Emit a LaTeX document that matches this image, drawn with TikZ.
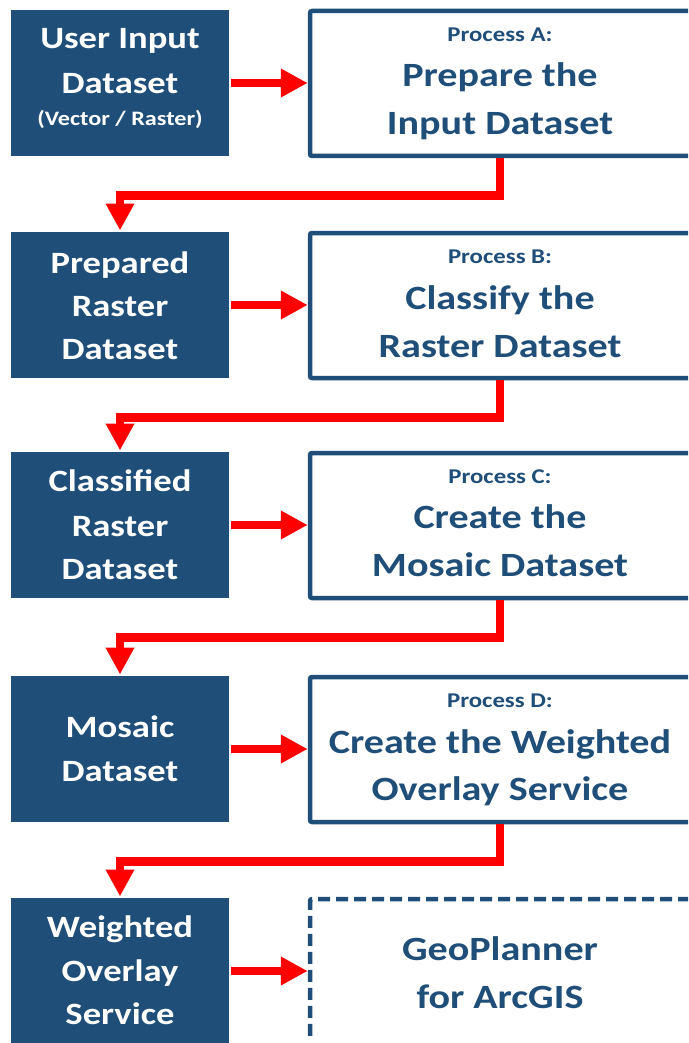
\documentclass[tikz,border=0pt]{standalone}
\usepackage{fontspec}
\setmainfont{Carlito}[FakeStretch=1.18]
\usetikzlibrary{arrows.meta}
\definecolor{navy}{HTML}{1F4E79}
\definecolor{flowred}{HTML}{FF0000}

\begin{document}
\begin{tikzpicture}[x=1pt,y=-1pt,
  databox/.style={fill=navy, minimum width=218pt, minimum height=146pt,
    inner sep=0pt, outer sep=0pt},
  procbox/.style={draw=navy, line width=4.5pt, rounded corners=2pt, fill=white,
    minimum width=400pt, minimum height=145pt, inner sep=0pt},
  toolbox/.style={procbox, dash pattern=on 12pt off 6pt},
  dtext/.style={text=white, font=\bfseries\fontsize{31}{31}\selectfont,
    anchor=base, inner sep=0pt},
  dnote/.style={dtext, font=\bfseries\fontsize{20.5}{20.5}\selectfont},
  ptag/.style={text=navy, font=\bfseries\fontsize{21}{21}\selectfont,
    anchor=base, inner sep=0pt},
  ptitle/.style={ptag, font=\bfseries\fontsize{34}{34}\selectfont},
  feed/.style={draw=flowred, line width=8.5pt,
    -{Triangle[width=27pt,length=27pt]}},
  handoff/.style={feed, shorten >=1.5pt},
]
\useasboundingbox (0,0) rectangle (688,1043);
\fill[white] (0,0) rectangle (688,1043);
\clip (0,0) rectangle (688,1043);

% ---- row 1
\begin{scope}[shift={(0,10)}]
  \node[databox] (d1) at (120,73) {};
  \node[procbox] (p1) at (510,73.5) {};
  \node[dtext] (d1a) at (120,38.5) {User Input};
  \node[dtext] (d1b) at (120,83.5) {Dataset};
  \node[dnote] (d1c) at (120,115.5) {(Vector / Raster)};
  \node[ptag]   (p1a) at (500,31.7) {Process A:};
  \node[ptitle] (p1b) at (500,76.5) {Prepare the};
  \node[ptitle] (p1c) at (500,125) {Input Dataset};
\end{scope}

% ---- row 2
\begin{scope}[shift={(0,232)}]
  \node[databox] (d2) at (120,73) {};
  \node[procbox] (p2) at (510,73.5) {};
  \node[dtext] (d2a) at (120,41) {Prepared};
  \node[dtext] (d2b) at (120,84.5) {Raster};
  \node[dtext] (d2c) at (120,127.7) {Dataset};
  \node[ptag]   (p2a) at (500,31.5) {Process B:};
  \node[ptitle] (p2b) at (500,77) {Classify the};
  \node[ptitle] (p2c) at (500,125) {Raster Dataset};
\end{scope}

% ---- row 3
\begin{scope}[shift={(0,452)}]
  \node[databox] (d3) at (120,73) {};
  \node[procbox] (p3) at (510,73.5) {};
  \node[dtext] (d3a) at (120,39.5) {Classified};
  \node[dtext] (d3b) at (120,84.5) {Raster};
  \node[dtext] (d3c) at (120,127.5) {Dataset};
  \node[ptag]   (p3a) at (500,31) {Process C:};
  \node[ptitle] (p3b) at (500,76.5) {Create the};
  \node[ptitle] (p3c) at (500,124.5) {Mosaic Dataset};
\end{scope}

% ---- row 4
\begin{scope}[shift={(0,676)}]
  \node[databox] (d4) at (120,73) {};
  \node[procbox] (p4) at (510,73.5) {};
  \node[dtext] (d4a) at (120,61) {Mosaic};
  \node[dtext] (d4b) at (120,105.5) {Dataset};
  \node[ptag]   (p4a) at (500,31.3) {Process D:};
  \node[ptitle] (p4b) at (500,77) {Create the Weighted};
  \node[ptitle] (p4c) at (500,124) {Overlay Service};
\end{scope}

% ---- row 5 (its lower edge falls just below the page)
\begin{scope}[shift={(0,898)}]
  \node[databox] (d5) at (120,73) {};
  \begin{scope}
    \clip (300,-10) rectangle (688,141);
    \node[toolbox] (p5) at (510,73.5) {};
  \end{scope}
  \node[dtext] (d5a) at (120,39) {Weighted};
  \node[dtext] (d5b) at (120,83.5) {Overlay};
  \node[dtext] (d5c) at (120,126) {Service};
  \node[ptitle] (p5a) at (500,62) {GeoPlanner};
  \node[ptitle] (p5b) at (500,110) {for ArcGIS};
\end{scope}

% ---- dataset into process
\foreach \r in {1,...,5}
  \draw[feed] ([xshift=2pt]d\r.east) -- (d\r.east -| p\r.west);

% ---- process output back to the next dataset
\foreach \r [evaluate=\r as \n using int(\r+1)] in {1,...,4}
  \draw[handoff] (p\r.south -| {p\r b}.base) -- ++(0,37) -| (d\n.north);
\end{tikzpicture}
\end{document}
